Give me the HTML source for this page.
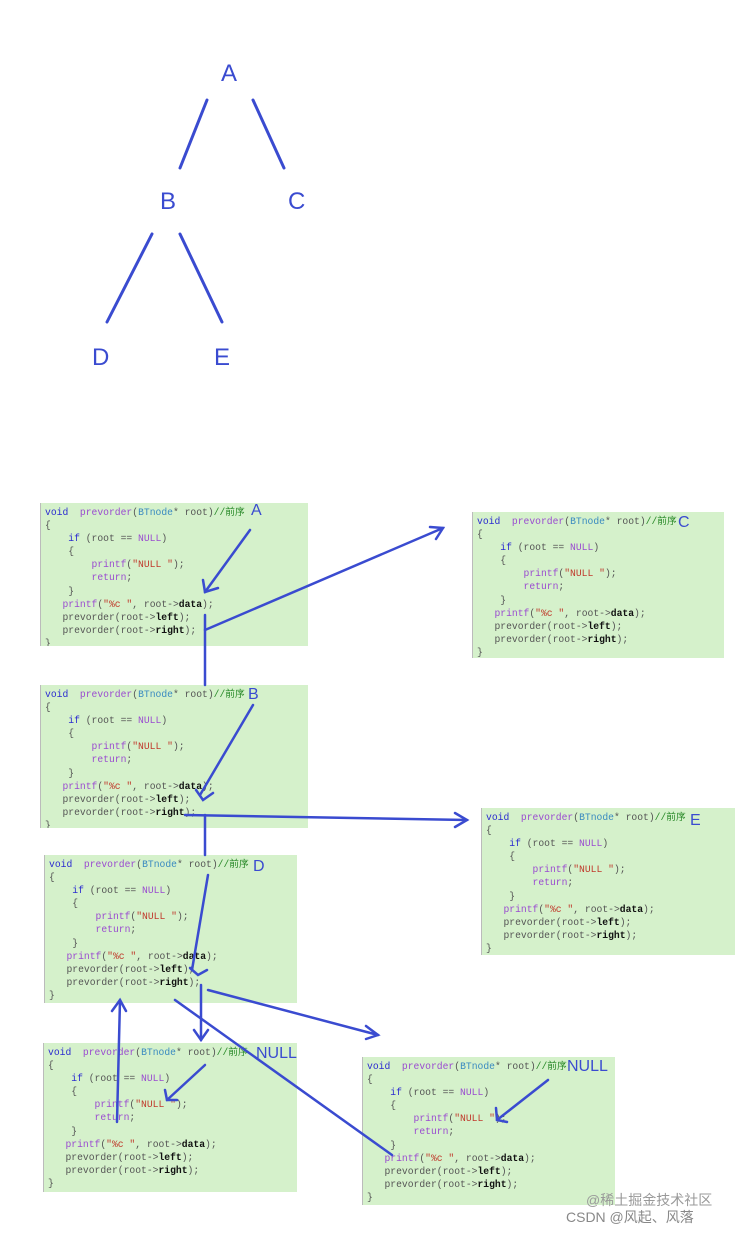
<!DOCTYPE html>
<html><head><meta charset="utf-8"><style>
body{margin:0;width:753px;height:1233px;background:#fff;position:relative;overflow:hidden;font-family:"Liberation Sans","Noto Sans CJK SC",sans-serif}
.c{position:absolute;background:#d5f1cb;font-family:"Liberation Mono","Noto Sans CJK SC",monospace;font-size:9.7px;line-height:13.1px;color:#555;padding:3px 0 0 4px;box-sizing:border-box;white-space:pre;border-left:1px solid #bbb;overflow:hidden}
.k{color:#2b2bd0}.p{color:#9a4bd0}.s{color:#c0392b}.g{color:#2a8a2a}.t{color:#3a8ac0}.b{color:#111;font-weight:bold}
.lab{position:absolute;color:#3a4bd0;font-size:24px}
.sl{position:absolute;color:#3a4bd0;font-size:16px}
.wm{position:absolute;color:#999;font-size:14px}
</style></head><body>
<div class="lab" style="left:221px;top:60px">A</div>
<div class="lab" style="left:160px;top:188px">B</div>
<div class="lab" style="left:288px;top:188px">C</div>
<div class="lab" style="left:92px;top:344px">D</div>
<div class="lab" style="left:214px;top:344px">E</div>

<div class="c" style="left:40px;top:503px;width:268px;height:143px"><span class="k">void</span>  <span class="p">prevorder</span>(<span class="t">BTnode</span>* root)<span class="g">//前序</span>
{
    <span class="k">if</span> (root == <span class="p">NULL</span>)
    {
        <span class="p">printf</span>(<span class="s">"NULL "</span>);
        <span class="p">return</span>;
    }
   <span class="p">printf</span>(<span class="s">"%c "</span>, root-><span class="b">data</span>);
   prevorder(root-><span class="b">left</span>);
   prevorder(root-><span class="b">right</span>);
}</div>
<div class="c" style="left:472px;top:512px;width:252px;height:146px"><span class="k">void</span>  <span class="p">prevorder</span>(<span class="t">BTnode</span>* root)<span class="g">//前序</span>
{
    <span class="k">if</span> (root == <span class="p">NULL</span>)
    {
        <span class="p">printf</span>(<span class="s">"NULL "</span>);
        <span class="p">return</span>;
    }
   <span class="p">printf</span>(<span class="s">"%c "</span>, root-><span class="b">data</span>);
   prevorder(root-><span class="b">left</span>);
   prevorder(root-><span class="b">right</span>);
}</div>
<div class="c" style="left:40px;top:685px;width:268px;height:143px"><span class="k">void</span>  <span class="p">prevorder</span>(<span class="t">BTnode</span>* root)<span class="g">//前序</span>
{
    <span class="k">if</span> (root == <span class="p">NULL</span>)
    {
        <span class="p">printf</span>(<span class="s">"NULL "</span>);
        <span class="p">return</span>;
    }
   <span class="p">printf</span>(<span class="s">"%c "</span>, root-><span class="b">data</span>);
   prevorder(root-><span class="b">left</span>);
   prevorder(root-><span class="b">right</span>);
}</div>
<div class="c" style="left:481px;top:808px;width:254px;height:147px"><span class="k">void</span>  <span class="p">prevorder</span>(<span class="t">BTnode</span>* root)<span class="g">//前序</span>
{
    <span class="k">if</span> (root == <span class="p">NULL</span>)
    {
        <span class="p">printf</span>(<span class="s">"NULL "</span>);
        <span class="p">return</span>;
    }
   <span class="p">printf</span>(<span class="s">"%c "</span>, root-><span class="b">data</span>);
   prevorder(root-><span class="b">left</span>);
   prevorder(root-><span class="b">right</span>);
}</div>
<div class="c" style="left:44px;top:855px;width:253px;height:148px"><span class="k">void</span>  <span class="p">prevorder</span>(<span class="t">BTnode</span>* root)<span class="g">//前序</span>
{
    <span class="k">if</span> (root == <span class="p">NULL</span>)
    {
        <span class="p">printf</span>(<span class="s">"NULL "</span>);
        <span class="p">return</span>;
    }
   <span class="p">printf</span>(<span class="s">"%c "</span>, root-><span class="b">data</span>);
   prevorder(root-><span class="b">left</span>);
   prevorder(root-><span class="b">right</span>);
}</div>
<div class="c" style="left:43px;top:1043px;width:254px;height:149px"><span class="k">void</span>  <span class="p">prevorder</span>(<span class="t">BTnode</span>* root)<span class="g">//前序</span>
{
    <span class="k">if</span> (root == <span class="p">NULL</span>)
    {
        <span class="p">printf</span>(<span class="s">"NULL "</span>);
        <span class="p">return</span>;
    }
   <span class="p">printf</span>(<span class="s">"%c "</span>, root-><span class="b">data</span>);
   prevorder(root-><span class="b">left</span>);
   prevorder(root-><span class="b">right</span>);
}</div>
<div class="c" style="left:362px;top:1057px;width:253px;height:148px"><span class="k">void</span>  <span class="p">prevorder</span>(<span class="t">BTnode</span>* root)<span class="g">//前序</span>
{
    <span class="k">if</span> (root == <span class="p">NULL</span>)
    {
        <span class="p">printf</span>(<span class="s">"NULL "</span>);
        <span class="p">return</span>;
    }
   <span class="p">printf</span>(<span class="s">"%c "</span>, root-><span class="b">data</span>);
   prevorder(root-><span class="b">left</span>);
   prevorder(root-><span class="b">right</span>);
}</div>

<div class="sl" style="left:251px;top:502px">A</div>
<div class="sl" style="left:678px;top:514px">C</div>
<div class="sl" style="left:248px;top:686px">B</div>
<div class="sl" style="left:690px;top:812px">E</div>
<div class="sl" style="left:253px;top:858px">D</div>
<div class="sl" style="left:256px;top:1045px">NULL</div>
<div class="sl" style="left:567px;top:1058px">NULL</div>

<svg width="753" height="1233" style="position:absolute;left:0;top:0" fill="none" stroke="#3a4bd0" stroke-width="3" stroke-linecap="round">
<line x1="207" y1="100" x2="180" y2="168"/><line x1="253" y1="100" x2="284" y2="168"/>
<line x1="152" y1="234" x2="107" y2="322"/><line x1="180" y1="234" x2="222" y2="322"/>
<g stroke-width="2.5">
<line x1="250" y1="530" x2="205" y2="592"/><path d="M203 580 L205 592 L218 588"/>
<line x1="205" y1="630" x2="443" y2="528"/><path d="M430 527 L443 528 L436 539"/>
<line x1="205" y1="615" x2="205" y2="685"/>
<line x1="253" y1="705" x2="200" y2="795"/><path d="M196 790 L203 800 L213 793"/>
<line x1="185" y1="815" x2="467" y2="820"/><path d="M455 813 L467 820 L455 827"/>
<line x1="205" y1="815" x2="205" y2="855"/>
<line x1="208" y1="875" x2="192" y2="970"/><path d="M190 968 L198 975 L207 970"/>
<line x1="201" y1="985" x2="201" y2="1040"/><path d="M194 1030 L201 1040 L208 1030"/>
<line x1="208" y1="990" x2="378" y2="1035"/><path d="M366 1026 L378 1035 L366 1039"/>
<line x1="117" y1="1122" x2="120" y2="1000"/><path d="M112 1011 L120 1000 L126 1011"/>
<line x1="175" y1="1000" x2="392" y2="1155"/>
<line x1="548" y1="1080" x2="497" y2="1120"/><path d="M496 1108 L497 1120 L507 1122"/>
<line x1="205" y1="1065" x2="167" y2="1100"/><path d="M165 1090 L167 1100 L177 1100"/>
</g></svg>
<div class="wm" style="left:586px;top:1190px">@稀土掘金技术社区</div>
<div class="wm" style="left:566px;top:1207px;color:#888">CSDN @风起、风落</div>
</body></html>
